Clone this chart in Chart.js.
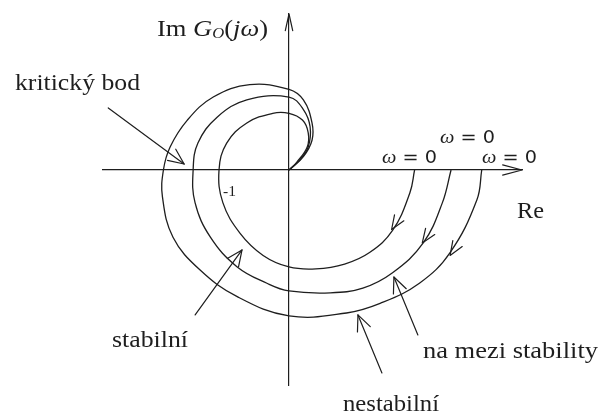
<!DOCTYPE html>
<html>
<head>
<meta charset="utf-8">
<script src="https://cdn.jsdelivr.net/npm/chart.js@4.4.1/dist/chart.umd.min.js"></script>
<style>
html, body { margin: 0; padding: 0; background: #fff; }
#wrap { width: 602px; height: 414px; }
</style>
</head>
<body>
<div id="wrap"><canvas id="nyquist" width="602" height="414"></canvas></div>
<script>
// Nyquist curves of G_O(jw): [Re, Im] samples from w = 0 on the real axis into the origin
var stableRe = [1.31, 1.26, 1.08, 0.84, 0.58, 0.28, 0.00, -0.27, -0.51, -0.69, -0.73, -0.65, -0.44, -0.17, 0.00, 0.14, 0.20, 0.19, 0.08, 0.00];
var stableIm = [0.00, -0.24, -0.63, -0.86, -0.98, -1.03, -1.01, -0.89, -0.66, -0.34, 0.00, 0.28, 0.49, 0.59, 0.59, 0.52, 0.39, 0.24, 0.08, 0.00];

var borderRe = [1.69, 1.60, 1.40, 1.08, 0.77, 0.43, 0.00, -0.23, -0.54, -0.82, -0.98, -1.00, -0.95, -0.75, -0.44, 0.00, 0.15, 0.22, 0.20, 0.10, 0.00];
var borderIm = [0.00, -0.34, -0.76, -1.07, -1.23, -1.28, -1.26, -1.18, -1.01, -0.70, -0.34, 0.00, 0.28, 0.55, 0.73, 0.76, 0.63, 0.45, 0.24, 0.09, 0.00];

var unstableRe = [2.01, 1.96, 1.68, 1.36, 0.95, 0.60, 0.00, -0.54, -0.93, -1.21, -1.32, -1.31, -1.24, -1.06, -0.79, -0.41, 0.00, 0.15, 0.24, 0.24, 0.15, 0.00];
var unstableIm = [0.00, -0.31, -0.86, -1.18, -1.39, -1.49, -1.52, -1.32, -1.04, -0.70, -0.28, 0.00, 0.24, 0.52, 0.76, 0.89, 0.84, 0.73, 0.49, 0.31, 0.14, 0.00];

// direction chevrons on each curve: tip and a point just behind it
var chevronTips = [[1.07, -0.62], [1.39, -0.76], [1.68, -0.89]];
var chevronTails = [[1.20, -0.42], [1.50, -0.60], [1.80, -0.70]];

// labelled pointer arrows: [label, tailRe, tailIm, tipRe, tipIm]
var pointers = [
  ['kritický bod', -1.885, 0.646, -1.094, 0.062],
  ['stabilní', -0.979, -1.51, -0.49, -0.833],
  ['na mezi stability', 1.344, -1.719, 1.094, -1.115],
  ['nestabilní', 0.969, -2.115, 0.719, -1.51]
];

var ink = '#1e1e1e';
var serif = '"Liberation Serif", "Times New Roman", serif';
var sans = '"DejaVu Sans", sans-serif';

function toPoints(re, im) {
  return re.map(function (v, i) { return { x: v, y: im[i] }; });
}

function curve(re, im) {
  return {
    data: toPoints(re, im),
    showLine: true,
    borderColor: ink,
    borderWidth: 1.3,
    pointRadius: 0,
    tension: 0.4,
    fill: false
  };
}

function arrowHead(ctx, x1, y1, x2, y2, len, spread) {
  var a = Math.atan2(y2 - y1, x2 - x1);
  ctx.beginPath();
  ctx.moveTo(x2 - len * Math.cos(a - spread), y2 - len * Math.sin(a - spread));
  ctx.lineTo(x2, y2);
  ctx.lineTo(x2 - len * Math.cos(a + spread), y2 - len * Math.sin(a + spread));
  ctx.stroke();
}

// runs of [string, font, dy] set on one baseline, stretched to a given width
function textRun(ctx, parts, x, y, width) {
  var natural = 0;
  parts.forEach(function (p) { ctx.font = p[1]; natural += ctx.measureText(p[0]).width; });
  var sx = width ? width / natural : 1;
  ctx.save();
  ctx.translate(x, y);
  ctx.scale(sx, 1);
  var cx = 0;
  parts.forEach(function (p) {
    ctx.font = p[1];
    ctx.fillText(p[0], cx, p[2] || 0);
    cx += ctx.measureText(p[0]).width;
  });
  ctx.restore();
}

var sketch = {
  id: 'sketch',
  afterDraw: function (chart) {
    var ctx = chart.ctx;
    var xs = chart.scales.x, ys = chart.scales.y;
    var px = function (v) { return xs.getPixelForValue(v); };
    var py = function (v) { return ys.getPixelForValue(v); };
    var x0 = px(0), y0 = py(0);

    ctx.save();
    ctx.strokeStyle = ink;
    ctx.fillStyle = ink;
    ctx.lineWidth = 1.2;
    ctx.lineCap = 'round';
    ctx.lineJoin = 'round';

    // open arrow tips on both axes
    arrowHead(ctx, xs.left, y0, xs.right, y0, 20, 0.26);
    arrowHead(ctx, x0, ys.bottom, x0, ys.top, 17, 0.22);

    // w direction along the curves
    chevronTips.forEach(function (t, i) {
      var b = chevronTails[i];
      arrowHead(ctx, px(b[0]), py(b[1]), px(t[0]), py(t[1]), 15, 0.38);
    });

    // pointer arrows
    pointers.forEach(function (p) {
      var ax = px(p[1]), ay = py(p[2]), bx = px(p[3]), by = py(p[4]);
      ctx.beginPath();
      ctx.moveTo(ax, ay);
      ctx.lineTo(bx, by);
      ctx.stroke();
      arrowHead(ctx, ax, ay, bx, by, 17, 0.42);
    });

    ctx.textBaseline = 'alphabetic';
    var f24 = '24px ' + serif;
    textRun(ctx, [['kritický bod', f24]], 15, 90, 125);
    textRun(ctx, [['stabilní', f24]], 112, 347, 76);
    textRun(ctx, [['na mezi stability', f24]], 423, 358, 175);
    textRun(ctx, [['nestabilní', f24]], 343, 411, 96);
    textRun(ctx, [['Re', f24]], 517, 218, 27);
    textRun(ctx, [['-1', '15px ' + serif]], 223, 196, 13);

    // axis title Im G_O(jw)
    textRun(ctx, [
      ['Im ', f24],
      ['G', 'italic 24px ' + serif],
      ['O', 'italic 15px ' + serif, 2],
      ['(', f24],
      ['jω', 'italic 24px ' + serif],
      [')', f24]
    ], 157, 36, 111);

    // w = 0 at the start of each curve
    [[382, 163], [440, 143], [482, 163]].forEach(function (q) {
      textRun(ctx, [['ω', 'italic 18px ' + serif], [' = 0', '17px ' + sans]], q[0], q[1], 55);
    });

    ctx.restore();
  }
};

var ctx = document.getElementById('nyquist').getContext('2d');
new Chart(ctx, {
  type: 'scatter',
  data: {
    datasets: [
      curve(stableRe, stableIm),
      curve(borderRe, borderIm),
      curve(unstableRe, unstableIm)
    ]
  },
  options: {
    responsive: false,
    animation: false,
    devicePixelRatio: 1,
    layout: { padding: { left: 103, right: 80, top: 14, bottom: 29 } },
    plugins: { legend: { display: false }, tooltip: { enabled: false } },
    scales: {
      x: {
        type: 'linear',
        min: -1.94,
        max: 2.43,
        position: { y: 0 },
        grid: { display: false },
        ticks: { display: false },
        border: { display: true, color: ink, width: 1.2 }
      },
      y: {
        type: 'linear',
        min: -2.24,
        max: 1.625,
        position: { x: 0 },
        grid: { display: false },
        ticks: { display: false },
        border: { display: true, color: ink, width: 1.2 }
      }
    }
  },
  plugins: [sketch]
});
</script>
</body>
</html>
